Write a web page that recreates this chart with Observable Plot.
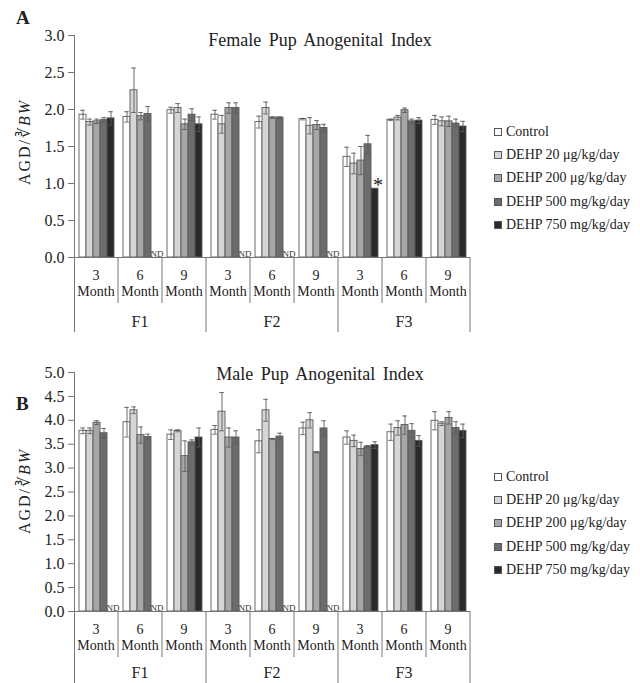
<!DOCTYPE html>
<html><head><meta charset="utf-8">
<script src="https://cdn.jsdelivr.net/npm/d3@7"></script>
<script src="https://cdn.jsdelivr.net/npm/@observablehq/plot@0.6"></script>
<style>
body{margin:0;background:#fff;font-family:"Liberation Serif",serif;color:#222;}
#wrap{position:relative;width:640px;height:683px;overflow:hidden;}
.title{position:absolute;font-size:18px;word-spacing:3px;white-space:nowrap;transform:translateX(-50%);}
.letter{position:absolute;font-size:19px;font-weight:bold;}
.ylab{position:absolute;font-size:16px;letter-spacing:2px;white-space:nowrap;transform:translate(-50%,-50%) rotate(-90deg);}
.legend{position:absolute;font-size:14px;}
.legend div{height:23.2px;line-height:23.2px;white-space:nowrap;}
.legend span.sw{display:inline-block;width:6px;height:6px;border:1px solid #555;margin-right:4px;vertical-align:0px;}
</style></head><body><div id="wrap"></div><script>
const treatments = ["Control","DEHP 20 μg/kg/day","DEHP 200 μg/kg/day","DEHP 500 mg/kg/day","DEHP 750 mg/kg/day"];
const colors = ["#ffffff","#d6d6d6","#a6a6a6","#6c6c6c","#2a2a2a"];
const generations = ["F1","F2","F3"];
const months = ["3","6","9"];
const yTicksFemale = [0,0.5,1.0,1.5,2.0,2.5,3.0];
const yTicksMale = [0,0.5,1.0,1.5,2.0,2.5,3.0,3.5,4.0,4.5,5.0];

// rows: F1-3, F1-6, F1-9, F2-3, F2-6, F2-9, F3-3, F3-6, F3-9 ; columns: treatments (null = ND)
const femaleMean = [
 [1.93,1.83,1.84,1.86,1.88],
 [1.90,2.26,1.91,1.94,null],
 [1.99,2.02,1.80,1.93,1.80],
 [1.93,1.80,2.02,2.02,null],
 [1.83,2.02,1.89,1.89,null],
 [1.87,1.78,1.79,1.75,null],
 [1.36,1.27,1.31,1.53,0.93],
 [1.86,1.89,1.99,1.84,1.85],
 [1.86,1.84,1.84,1.81,1.77]
];
const femaleErr = [
 [0.06,0.04,0.03,0.03,0.09],
 [0.07,0.30,0.05,0.10,null],
 [0.04,0.06,0.07,0.08,0.10],
 [0.06,0.12,0.07,0.07,null],
 [0.08,0.08,0.01,0.01,null],
 [0.01,0.11,0.06,0.05,null],
 [0.13,0.14,0.19,0.12,0],
 [0.01,0.03,0.03,0.03,0.04],
 [0.06,0.06,0.07,0.06,0.07]
];
const femaleSig = [[6,4]]; // [group index, treatment index]

const maleMean = [
 [3.78,3.78,3.95,3.73,null],
 [3.96,4.21,3.69,3.65,null],
 [3.70,3.78,3.25,3.54,3.64],
 [3.80,4.18,3.64,3.64,null],
 [3.56,4.21,3.61,3.66,null],
 [3.83,4.00,3.33,3.83,null],
 [3.64,3.57,3.40,3.45,3.48],
 [3.75,3.84,3.90,3.78,3.57],
 [3.99,3.93,4.05,3.84,3.78]
];
const maleErr = [
 [0.06,0.06,0.04,0.10,null],
 [0.31,0.07,0.17,0.06,null],
 [0.10,0.02,0.32,0.05,0.20],
 [0.09,0.40,0.20,0.14,null],
 [0.24,0.23,0.01,0.07,null],
 [0.13,0.16,0.01,0.16,null],
 [0.14,0.12,0.14,0.02,0.07],
 [0.17,0.15,0.19,0.15,0.11],
 [0.19,0.04,0.13,0.13,0.14]
];
const maleSig = [];

const groupKeys = [];
generations.forEach(g => months.forEach(m => groupKeys.push(g + "|" + m)));

const wrap = document.getElementById("wrap");

function panel(opts) {
  const {mean, err, sig, ticks, top, height, mTop, mBottom, genDy, title, titleY, letter, letterY, ylabY, legendTop} = opts;
  const ymax = ticks[ticks.length - 1];
  const rows = [];
  groupKeys.forEach((k, gi) => treatments.forEach((t, ti) => {
    rows.push({key: k, t, v: mean[gi][ti], e: err[gi][ti], sig: sig.some(s => s[0] === gi && s[1] === ti)});
  }));
  const bars = rows.filter(d => d.v != null);
  const errs = bars.filter(d => d.e > 0).map(d => ({...d, lo: d.v - d.e, hi: d.v + d.e}));
  const nd = rows.filter(d => d.v == null);
  const sigRows = bars.filter(d => d.sig);

  const plot = Plot.plot({
    width: 640, height, marginLeft: 70, marginRight: 166, marginTop: mTop, marginBottom: mBottom,
    style: {fontFamily: "'Liberation Serif', serif", fontSize: "16px", color: "#222", background: "transparent"},
    fx: {domain: groupKeys, padding: 0, axis: null},
    x: {domain: treatments, paddingInner: 0, paddingOuter: 0.55, axis: null},
    y: {domain: [0, ymax]},
    color: {domain: treatments, range: colors},
    marks: [
      Plot.barY(bars, {fx: "key", x: "t", y: "v", fill: "t", stroke: "#5a5a5a", strokeWidth: 0.9}),
      Plot.ruleX(errs, {fx: "key", x: "t", y1: "lo", y2: "hi", stroke: "#5a5a5a", strokeWidth: 0.9}),
      Plot.tickY(errs, {fx: "key", x: "t", y: "hi", stroke: "#5a5a5a", strokeWidth: 0.9, insetLeft: 1.2, insetRight: 1.2}),
      Plot.tickY(errs, {fx: "key", x: "t", y: "lo", stroke: "#5a5a5a", strokeWidth: 0.9, insetLeft: 1.2, insetRight: 1.2}),
      Plot.text(nd, {fx: "key", x: "t", y: 0, text: () => "ND", fontSize: 9, dx: 2, lineAnchor: "bottom", dy: -1, fill: "#333"}),
      Plot.text(sigRows, {fx: "key", x: "t", y: "v", text: () => "*", fontSize: 20, dx: 3, lineAnchor: "bottom", dy: 3, fill: "#222"}),
      Plot.ruleY([0], {stroke: "#777", strokeWidth: 1}),
      Plot.axisY({ticks, tickFormat: d => d.toFixed(1), tickSize: 6, tickPadding: 4, fontSize: 16, stroke: "#777", label: null})
    ]
  });
  plot.style.position = "absolute";
  plot.style.left = "0px";
  plot.style.top = top + "px";
  wrap.appendChild(plot);

  const svg = d3.select(plot);
  const fx = plot.scale("fx"), y = plot.scale("y");
  const bw = fx.bandwidth != null ? fx.bandwidth : (fx.range[1] - fx.range[0]) / groupKeys.length;
  const base = y.apply(0), yTop = y.apply(ymax);
  const g = svg.append("g").attr("stroke", "#777").attr("stroke-width", 1).attr("fill", "none");
  g.append("line").attr("x1", fx.apply(groupKeys[0]) + 0.5).attr("x2", fx.apply(groupKeys[0]) + 0.5)
    .attr("y1", yTop).attr("y2", height);
  groupKeys.forEach((k, i) => {
    const x0 = fx.apply(k);
    if (i > 0) {
      const full = i % 3 === 0;
      g.append("line").attr("x1", x0).attr("x2", x0).attr("y1", base).attr("y2", full ? height : base + 46);
    }
  });
  const xEnd = fx.apply(groupKeys[groupKeys.length - 1]) + bw;
  g.append("line").attr("x1", xEnd).attr("x2", xEnd).attr("y1", base).attr("y2", height);
  const tg = svg.append("g").attr("font-family", "'Liberation Serif', serif").attr("font-size", 14).attr("fill", "#222").attr("text-anchor", "middle");
  groupKeys.forEach(k => {
    const cx = fx.apply(k) + bw / 2;
    tg.append("text").attr("x", cx).attr("y", base + 23).text(k.split("|")[1]);
    tg.append("text").attr("x", cx).attr("y", base + 39).text("Month");
  });
  const gg = svg.append("g").attr("font-family", "'Liberation Serif', serif").attr("font-size", 16).attr("fill", "#222").attr("text-anchor", "middle");
  generations.forEach((gen, i) => {
    const cx = fx.apply(groupKeys[i * 3]) + bw * 1.5;
    gg.append("text").attr("x", cx).attr("y", base + genDy).text(gen);
  });

  const t = document.createElement("div");
  t.className = "title"; t.textContent = title;
  t.style.left = "320px"; t.style.top = titleY + "px";
  wrap.appendChild(t);
  const l = document.createElement("div");
  l.className = "letter"; l.textContent = letter;
  l.style.left = "16px"; l.style.top = letterY + "px";
  wrap.appendChild(l);
  const yl = document.createElement("div");
  yl.className = "ylab"; yl.innerHTML = "AGD/∛<i>BW</i>";
  yl.style.left = "24px"; yl.style.top = ylabY + "px";
  wrap.appendChild(yl);
  const lg = document.createElement("div");
  lg.className = "legend"; lg.style.left = "494px"; lg.style.top = legendTop + "px";
  treatments.forEach((tr, i) => {
    const d = document.createElement("div");
    const sw = document.createElement("span");
    sw.className = "sw"; sw.style.background = colors[i];
    d.appendChild(sw);
    d.appendChild(document.createTextNode(tr));
    lg.appendChild(d);
  });
  wrap.appendChild(lg);
}

panel({mean: femaleMean, err: femaleErr, sig: femaleSig, ticks: yTicksFemale, top: 0, height: 332,
  mTop: 35, mBottom: 75, genDy: 70, title: "Female Pup Anogenital Index", titleY: 30, letter: "A", letterY: 7, ylabY: 142, legendTop: 120});
panel({mean: maleMean, err: maleErr, sig: maleSig, ticks: yTicksMale, top: 340, height: 343,
  mTop: 32, mBottom: 72, genDy: 67, title: "Male Pup Anogenital Index", titleY: 364, letter: "B", letterY: 393, ylabY: 491, legendTop: 465});
</script></body></html>
